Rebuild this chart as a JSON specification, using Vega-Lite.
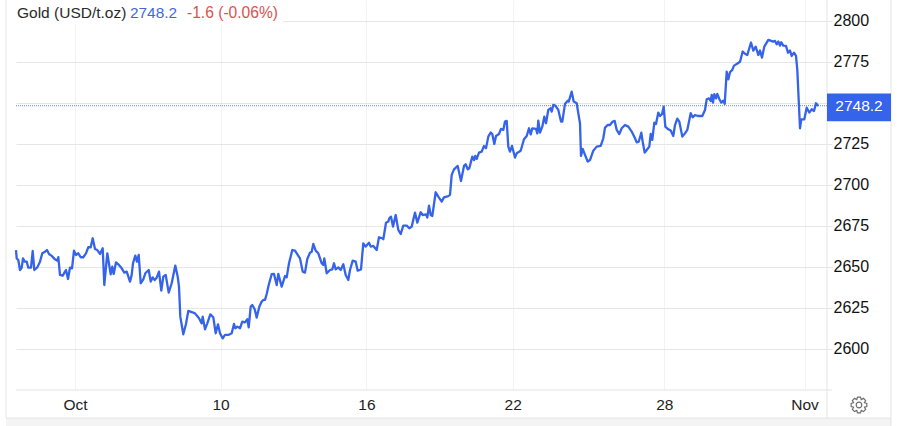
{"$schema":"https://vega.github.io/schema/vega-lite/v6.json","width":811,"height":390,"autosize":{"type":"none"},"padding":{"left":16,"top":0,"right":73,"bottom":36},"background":"#ffffff","config":{"view":{"stroke":null},"font":"Liberation Sans"},
"encoding":{"x":{"field":"t","type":"quantitative","scale":{"domain":[-59,752],"nice":false,"zero":false},"axis":{"title":null,"values":[0,145.6,291.4,437.7,589.3,729.5],"labelExpr":"datum.value==0?'Oct':datum.value==145.6?'10':datum.value==291.4?'16':datum.value==437.7?'22':datum.value==589.3?'28':'Nov'","domain":false,"ticks":false,"labelPadding":7,"labelFontSize":15.5,"labelColor":"#222222","gridColor":"#f3f3f3","gridWidth":1,"grid":true,"labelFlush":false,"labelOverlap":false}},
"y":{"field":"p","type":"quantitative","scale":{"domain":[2574.76,2813.1],"nice":false,"zero":false},"axis":{"title":null,"orient":"right","values":[2600,2625,2650,2675,2700,2725,2750,2775,2800],"labelExpr":"datum.value==2750?'':format(datum.value,'d')","domain":false,"tickSize":5,"tickColor":"#e6e6e6","labelPadding":1,"labelFontSize":16,"labelColor":"#111111","labelOffset":-0.5,"gridColor":"#e6e6e6","gridWidth":1,"grid":true,"labelOverlap":false}}},
"layer":[
{"data":{"values":[{"t":-59,"t2":208,"p":2813.1,"p2":2798.6}]},"mark":{"type":"rect","color":"#ffffff"},"encoding":{"x2":{"field":"t2"},"y2":{"field":"p2"}}},
{"data":{"values":[{"t":-69,"t2":816,"p":2557.6,"p2":2552.7}]},"mark":{"type":"rect","color":"#f4f4f4"},"encoding":{"x2":{"field":"t2"},"y2":{"field":"p2"}}},
{"data":{"values":[{"t":-69,"p":2813.1,"p2":2557.6},{"t":752,"p":2813.1,"p2":2557.6},{"t":816,"p":2813.1,"p2":2552.7}]},"mark":{"type":"rule","color":"#e4e4e4","strokeWidth":1},"encoding":{"y2":{"field":"p2"}}},
{"data":{"values":[{"t":-69,"t2":816,"p":2557.6},{"t":-59,"t2":757,"p":2574.76}]},"mark":{"type":"rule","color":"#e4e4e4","strokeWidth":1},"encoding":{"x2":{"field":"t2"}}},
{"data":{"values":[{"t":-59,"t2":752,"p":2748.5}]},"mark":{"type":"rule","color":"#4a6fe0","strokeWidth":1,"strokeDash":[1,1],"opacity":0.85},"encoding":{"x2":{"field":"t2"}}},
{"data":{"values":[{"t":-59,"p":2660.3},{"t":-58.3,"p":2655.2},{"t":-56.7,"p":2654.2},{"t":-55,"p":2648.1},{"t":-53.3,"p":2649.5},{"t":-52,"p":2655.2},{"t":-50.3,"p":2653.2},{"t":-48.3,"p":2653.2},{"t":-46.7,"p":2649.5},{"t":-44,"p":2649.5},{"t":-42.3,"p":2659.7},{"t":-40.7,"p":2648.1},{"t":-37.7,"p":2649.7},{"t":-35,"p":2653.2},{"t":-32.7,"p":2658.3},{"t":-30,"p":2659.3},{"t":-28,"p":2660.3},{"t":-26,"p":2657.9},{"t":-23.3,"p":2656.7},{"t":-20,"p":2654.6},{"t":-17.7,"p":2653.8},{"t":-16.7,"p":2655.9},{"t":-15,"p":2645.1},{"t":-12.3,"p":2644.6},{"t":-10,"p":2647.1},{"t":-9,"p":2648.1},{"t":-7,"p":2642.6},{"t":-5,"p":2649.5},{"t":-3,"p":2649.1},{"t":-1,"p":2659.9},{"t":1,"p":2657.3},{"t":3.3,"p":2658.3},{"t":5.7,"p":2655.9},{"t":8.3,"p":2655.9},{"t":11,"p":2658.3},{"t":13.3,"p":2662},{"t":15.7,"p":2662},{"t":17.7,"p":2667.5},{"t":20,"p":2660.9},{"t":22.3,"p":2660.3},{"t":25,"p":2657.9},{"t":27.7,"p":2661.4},{"t":29.3,"p":2638.9},{"t":32.3,"p":2658.3},{"t":35.7,"p":2645.5},{"t":37.3,"p":2650.1},{"t":38.7,"p":2645.7},{"t":41,"p":2652.8},{"t":43.3,"p":2651.6},{"t":46.7,"p":2649.1},{"t":49.3,"p":2646.5},{"t":51.7,"p":2647.1},{"t":55,"p":2641},{"t":56.7,"p":2645.1},{"t":58,"p":2652.2},{"t":60.3,"p":2656.9},{"t":62,"p":2653.2},{"t":63.7,"p":2657.3},{"t":65.7,"p":2640},{"t":68.3,"p":2642.4},{"t":70.3,"p":2646.1},{"t":73.7,"p":2648.1},{"t":75.7,"p":2641},{"t":77.7,"p":2643.6},{"t":79.7,"p":2642},{"t":81.7,"p":2643.4},{"t":84,"p":2647.1},{"t":86.3,"p":2635.5},{"t":88.3,"p":2644},{"t":90.7,"p":2645.1},{"t":93.7,"p":2634.3},{"t":96.7,"p":2640},{"t":100.3,"p":2650.8},{"t":102.7,"p":2644},{"t":104,"p":2637.9},{"t":105.3,"p":2619.6},{"t":108.3,"p":2608.8},{"t":111,"p":2615.1},{"t":113.3,"p":2623.1},{"t":116.7,"p":2622.4},{"t":120,"p":2621.6},{"t":124,"p":2618.6},{"t":126.7,"p":2615.5},{"t":127.7,"p":2619.6},{"t":130,"p":2611.8},{"t":132.3,"p":2615.5},{"t":135.3,"p":2621},{"t":138.3,"p":2619.2},{"t":140.7,"p":2609.4},{"t":143,"p":2614.9},{"t":145,"p":2609.4},{"t":147.7,"p":2606.3},{"t":150,"p":2608.4},{"t":153.3,"p":2608.4},{"t":156.7,"p":2609.4},{"t":159,"p":2615.1},{"t":160.3,"p":2612.5},{"t":162.3,"p":2613.5},{"t":165,"p":2612.5},{"t":167.3,"p":2616.5},{"t":170,"p":2616.1},{"t":172.3,"p":2618},{"t":173.7,"p":2613.1},{"t":175.7,"p":2625.7},{"t":177.3,"p":2626.7},{"t":179.7,"p":2624.1},{"t":181.7,"p":2619},{"t":184.3,"p":2625.7},{"t":186.7,"p":2628.8},{"t":188.3,"p":2629.8},{"t":190,"p":2629.8},{"t":191.7,"p":2633.4},{"t":193.7,"p":2638.9},{"t":196.7,"p":2645.5},{"t":199,"p":2645.7},{"t":201.7,"p":2638.9},{"t":203.3,"p":2645.7},{"t":206.7,"p":2637.9},{"t":210,"p":2644.4},{"t":211.7,"p":2643.6},{"t":214,"p":2652.2},{"t":217.3,"p":2660.3},{"t":220,"p":2659.9},{"t":222.7,"p":2657.3},{"t":225,"p":2655.2},{"t":227.7,"p":2647.1},{"t":230,"p":2646.5},{"t":232.3,"p":2654.8},{"t":235,"p":2658.7},{"t":236.7,"p":2659.3},{"t":238.3,"p":2664},{"t":240.7,"p":2659.9},{"t":243.3,"p":2658.3},{"t":246.7,"p":2652.2},{"t":248.3,"p":2651.2},{"t":249.3,"p":2655.2},{"t":251.7,"p":2646.1},{"t":255,"p":2648.1},{"t":257.3,"p":2648.5},{"t":259,"p":2652.2},{"t":260.7,"p":2648.5},{"t":263.3,"p":2649.7},{"t":265.7,"p":2648.1},{"t":268.3,"p":2651.6},{"t":270.7,"p":2645},{"t":273.3,"p":2642},{"t":275,"p":2648.1},{"t":277.7,"p":2653.8},{"t":280.7,"p":2653.2},{"t":282.7,"p":2647.7},{"t":286,"p":2648.5},{"t":288.3,"p":2664.4},{"t":290.7,"p":2662.4},{"t":294,"p":2664.8},{"t":295.7,"p":2662.4},{"t":298.3,"p":2662.8},{"t":301.7,"p":2660.3},{"t":304,"p":2668.1},{"t":307.3,"p":2667.5},{"t":308.3,"p":2666.9},{"t":311,"p":2677},{"t":313.3,"p":2677.7},{"t":314.3,"p":2679.7},{"t":316,"p":2680.7},{"t":318,"p":2674.6},{"t":320.7,"p":2681.7},{"t":323.3,"p":2672.6},{"t":325.7,"p":2670.1},{"t":328.3,"p":2675.2},{"t":331.7,"p":2675.2},{"t":334.3,"p":2673.6},{"t":336.7,"p":2674.6},{"t":340,"p":2683.2},{"t":342.3,"p":2677},{"t":345.7,"p":2683.4},{"t":347.7,"p":2681.7},{"t":351,"p":2682.1},{"t":352.3,"p":2680.1},{"t":354,"p":2687.4},{"t":355.7,"p":2681.7},{"t":357.3,"p":2681.1},{"t":360.7,"p":2695.6},{"t":363.3,"p":2692.9},{"t":366.7,"p":2689.9},{"t":369,"p":2692.5},{"t":373.3,"p":2693.3},{"t":375,"p":2694},{"t":376.7,"p":2706.2},{"t":379,"p":2709.6},{"t":382.7,"p":2711.7},{"t":386,"p":2702.5},{"t":389,"p":2711.7},{"t":390.7,"p":2712.7},{"t":392.7,"p":2709.6},{"t":394.3,"p":2710.3},{"t":397.3,"p":2717.4},{"t":399,"p":2715.3},{"t":400.3,"p":2717.8},{"t":401.7,"p":2716},{"t":404,"p":2719.8},{"t":406.7,"p":2720.4},{"t":409,"p":2723.9},{"t":411,"p":2722.5},{"t":413.3,"p":2729.6},{"t":415.7,"p":2732.1},{"t":417.3,"p":2731.2},{"t":419.3,"p":2725.1},{"t":421,"p":2730},{"t":424,"p":2731.2},{"t":426,"p":2734.3},{"t":428.3,"p":2733.7},{"t":430,"p":2738.8},{"t":431.7,"p":2739.2},{"t":433.3,"p":2723.5},{"t":435,"p":2720.4},{"t":437,"p":2723.9},{"t":440,"p":2716.8},{"t":441.7,"p":2719.4},{"t":445.7,"p":2721},{"t":449,"p":2728},{"t":451.7,"p":2730},{"t":454,"p":2734.7},{"t":455.7,"p":2731},{"t":457.3,"p":2734.7},{"t":461,"p":2734.3},{"t":462.3,"p":2731.6},{"t":463.3,"p":2739.4},{"t":465,"p":2732.1},{"t":467.3,"p":2735.7},{"t":469.3,"p":2741.8},{"t":471,"p":2737.8},{"t":473.3,"p":2745.9},{"t":475.7,"p":2746.9},{"t":476.7,"p":2744.9},{"t":478.3,"p":2749},{"t":480.3,"p":2748.6},{"t":483.3,"p":2745.9},{"t":486,"p":2738.8},{"t":487.3,"p":2738.8},{"t":490,"p":2749.6},{"t":492.7,"p":2751.6},{"t":493.7,"p":2751},{"t":496.7,"p":2757.1},{"t":498.7,"p":2751},{"t":501.7,"p":2750},{"t":503.3,"p":2743.9},{"t":505,"p":2737.8},{"t":506,"p":2717.8},{"t":507.7,"p":2722.1},{"t":510,"p":2718.4},{"t":512.7,"p":2714.3},{"t":515,"p":2715.3},{"t":518.3,"p":2721},{"t":521.7,"p":2723.5},{"t":525.7,"p":2723.9},{"t":528.3,"p":2728.6},{"t":530,"p":2735.1},{"t":532.7,"p":2736.7},{"t":535,"p":2736.7},{"t":537.7,"p":2738.8},{"t":539.7,"p":2739.2},{"t":541.7,"p":2733.7},{"t":544.3,"p":2731.2},{"t":546.7,"p":2734.7},{"t":550,"p":2736.7},{"t":553.3,"p":2735.7},{"t":556.7,"p":2732.7},{"t":560,"p":2728.6},{"t":561.7,"p":2726.1},{"t":563.7,"p":2726.5},{"t":566.3,"p":2732},{"t":567.7,"p":2726.5},{"t":569.7,"p":2719.8},{"t":572.3,"p":2721.9},{"t":574.3,"p":2723.5},{"t":575.7,"p":2731.2},{"t":577.3,"p":2727.6},{"t":579.3,"p":2738.2},{"t":581,"p":2737.3},{"t":583.3,"p":2744.3},{"t":585,"p":2742.2},{"t":587,"p":2743.3},{"t":588.7,"p":2747.9},{"t":590.3,"p":2735.7},{"t":593.3,"p":2734.1},{"t":595.7,"p":2733.3},{"t":598.3,"p":2730},{"t":600,"p":2736.7},{"t":602.3,"p":2740.6},{"t":604.3,"p":2738.8},{"t":607.3,"p":2729.6},{"t":610,"p":2731.6},{"t":612.3,"p":2733.7},{"t":615.7,"p":2743.9},{"t":617.7,"p":2741.4},{"t":620,"p":2742.8},{"t":623.3,"p":2742.2},{"t":627.3,"p":2742.2},{"t":630,"p":2745.9},{"t":631.7,"p":2752.4},{"t":634,"p":2753},{"t":635.7,"p":2751.4},{"t":636.7,"p":2755.1},{"t":638,"p":2750.4},{"t":639.3,"p":2755.5},{"t":641,"p":2753},{"t":642.3,"p":2755.7},{"t":644.3,"p":2752.6},{"t":646.3,"p":2750.4},{"t":648.3,"p":2751.6},{"t":649.7,"p":2749.6},{"t":651.7,"p":2769.3},{"t":653.3,"p":2764.6},{"t":655,"p":2768.9},{"t":657.3,"p":2770.4},{"t":659,"p":2773},{"t":661.7,"p":2774},{"t":665,"p":2775.4},{"t":667.7,"p":2781.6},{"t":670.3,"p":2780.1},{"t":672.3,"p":2779.5},{"t":676,"p":2787.1},{"t":678.3,"p":2782.2},{"t":680.7,"p":2784.6},{"t":683.3,"p":2779.5},{"t":685,"p":2782.2},{"t":687,"p":2777.9},{"t":689.3,"p":2784.6},{"t":693.3,"p":2788.7},{"t":698.3,"p":2787.7},{"t":700,"p":2788.1},{"t":701.7,"p":2786},{"t":703.3,"p":2787.7},{"t":705,"p":2785.2},{"t":706.3,"p":2787.3},{"t":708.3,"p":2785.2},{"t":711,"p":2785},{"t":713,"p":2780.9},{"t":715,"p":2782.2},{"t":716.7,"p":2778.9},{"t":719,"p":2780.9},{"t":721,"p":2778.9},{"t":722.3,"p":2770.4},{"t":723.7,"p":2752},{"t":725,"p":2734.7},{"t":726.3,"p":2740.2},{"t":729.3,"p":2740.2},{"t":731.7,"p":2747.3},{"t":734.3,"p":2744.3},{"t":736.7,"p":2746.3},{"t":739,"p":2745.3},{"t":741,"p":2750},{"t":743.3,"p":2748.3}]},"mark":{"type":"line","color":"#3563e9","strokeWidth":2.3,"strokeJoin":"round"}},
{"data":{"values":[{"t":752,"t2":816,"p":2755.9,"p2":2739}]},"mark":{"type":"rect","color":"#3563e9"},"encoding":{"x2":{"field":"t2"},"y2":{"field":"p2"}}},
{"data":{"values":[{"t":784,"p":2748.3,"label":"2748.2"}]},"mark":{"type":"text","color":"#ffffff","fontSize":15.5,"align":"center","baseline":"middle"},"encoding":{"text":{"field":"label"}}},
{"data":{"values":[{"t":-58,"p":2805.4,"label":"Gold (USD/t.oz)"}]},"mark":{"type":"text","color":"#2a2a2a","fontSize":15.5,"align":"left","baseline":"middle"},"encoding":{"text":{"field":"label"}}},
{"data":{"values":[{"t":55,"p":2805.4,"label":"2748.2"}]},"mark":{"type":"text","color":"#3f68dc","fontSize":15.4,"align":"left","baseline":"middle"},"encoding":{"text":{"field":"label"}}},
{"data":{"values":[{"t":112,"p":2805.4,"label":"-1.6 (-0.06%)"}]},"mark":{"type":"text","color":"#d9534f","fontSize":15.6,"align":"left","baseline":"middle"},"encoding":{"text":{"field":"label"}}},
{"data":{"values":[{"t":784,"p":2565.6}]},"mark":{"type":"point","filled":false,"size":256,"color":"#6e6e6e","strokeWidth":1.2,"opacity":1,"shape":"M-0.19 -0.98L0.19 -0.98L0.28 -0.68L0.56 -0.83L0.83 -0.56L0.68 -0.28L0.98 -0.19L0.98 0.19L0.68 0.28L0.83 0.56L0.56 0.83L0.28 0.68L0.19 0.98L-0.19 0.98L-0.28 0.68L-0.56 0.83L-0.83 0.56L-0.68 0.28L-0.98 0.19L-0.98 -0.19L-0.68 -0.28L-0.83 -0.56L-0.56 -0.83L-0.28 -0.68ZM0.35 0A0.35 0.35 0 1 0 -0.35 0A0.35 0.35 0 1 0 0.35 0Z"}}
]}
